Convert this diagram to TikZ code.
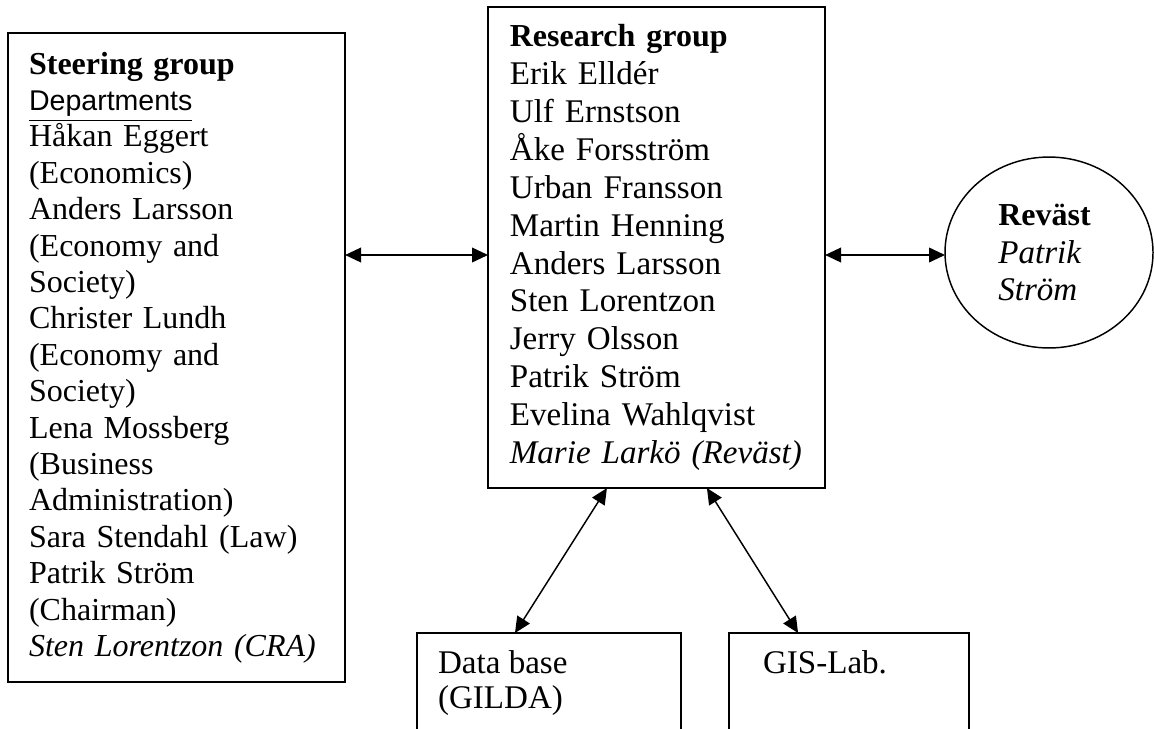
\documentclass[tikz,border=0pt]{standalone}
\usepackage{fontspec}
\setmainfont{Liberation Serif}
\newfontfamily\deptfont{Liberation Sans}
\usetikzlibrary{shapes.geometric, arrows.meta, positioning}

\begin{document}
\begin{tikzpicture}[x=0.375pt, y=-0.375pt,
        >={Triangle[length=6pt,width=5.5pt]},
        grpbox/.style={draw, rectangle, line width=0.75pt, anchor=north west, outer sep=0pt, inner ysep=0pt},
        ovalbox/.style={draw, ellipse, line width=0.55pt, outer sep=0pt, inner sep=0pt, align=left},
        tnrfont/.style={font=\fontsize{12}{13.65}\selectfont},
        camfont/.style={font=\fontsize{12.4}{14.2}\selectfont},
        link/.style={<->, line width=0.65pt},
        slant/.style={<->, line width=0.55pt}]
        \clip (0,0) rectangle (1154,728);

        % Draw the blocks
        \node (steer) [grpbox, tnrfont, align=left, minimum width=126.4pt, minimum height=243.4pt, text width=110.6pt, inner xsep=7.9pt] at (8,33)
            {\textbf{Steering group}\\ {\deptfont\fontsize{10.7}{13}\selectfont\underline{Departments}}\\ Håkan Eggert\\ (Economics)\\ Anders Larsson\\ (Economy and\\ Society)\\ Christer Lundh\\ (Economy and\\ Society)\\ Lena Mossberg\\ (Business\\ Administration)\\ Sara Stendahl (Law)\\ Patrik Ström\\ (Chairman)\\ \textit{Sten Lorentzon (CRA)}};
        \node (rg)    [grpbox, camfont, align=left, minimum width=126.4pt, minimum height=180.4pt, text width=110pt, inner xsep=8.2pt] at (488,7)
            {{\fontsize{12}{14.2}\selectfont\textbf{Research group}}\\ Erik Elldér\\ Ulf Ernstson\\ Åke Forsström\\ Urban Fransson\\ Martin Henning\\ Anders Larsson\\ Sten Lorentzon\\ Jerry Olsson\\ Patrik Ström\\ Evelina Wahlqvist\\ \textit{Marie Larkö (Reväst)}};
        \node (rev)   [ovalbox, camfont, text width=38pt, minimum width=78pt, minimum height=71.6pt] at (1049,252.5)
            {{\fontsize{12}{14.2}\selectfont\textbf{Reväst}}\\ \textit{Patrik}\\ \textit{Ström}};
        \node (db)    [grpbox, camfont, minimum width=99pt, inner xsep=7.9pt] at (417,633)
            {\parbox[c][47.6pt][t]{83.2pt}{\fontsize{12.4}{13.3}\selectfont\vspace*{6.4pt}Data base\\ (GILDA)}};
        \node (gis)   [grpbox, camfont, minimum width=90pt, inner xsep=12.75pt] at (729,633)
            {\parbox[c][47.6pt][t]{64.5pt}{\vspace*{6.6pt}GIS-Lab.}};

        % Draw the connecting lines
        \coordinate (arm) at (0,255);
        \draw [link] (steer.east |- arm) -- (rg.west |- arm);
        \draw [link] (rg.east |- arm) -- (rev.west |- arm);
        \draw [slant] ([xshift=44.6pt]rg.south west) -- ([xshift=36.75pt]db.north west);
        \draw [slant] ([xshift=82.1pt]rg.south west) -- ([xshift=25.9pt]gis.north west);
\end{tikzpicture}
\end{document}
